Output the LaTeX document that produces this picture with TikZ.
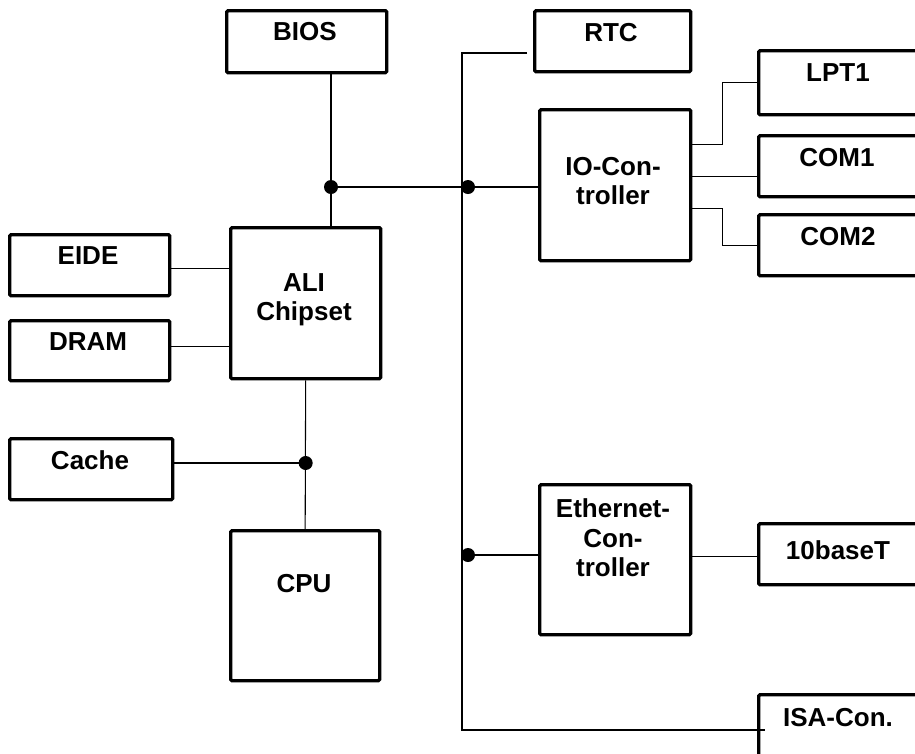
\documentclass[tikz,border=0pt]{standalone}
\usepackage{fontspec}
\setmainfont{Liberation Sans}
\usetikzlibrary{calc}

\begin{document}
\begin{tikzpicture}[x=0.75pt, y=-0.75pt,
  box/.style 2 args={draw, line width=2.5pt, rounded corners=1pt, anchor=north west,
    inner sep=0pt, minimum width=#1*0.75pt, minimum height=#2*0.75pt},
  lbl/.style={font=\fontsize{19.5}{22}\selectfont\bfseries, align=center, inner sep=0pt},
  wire/.style={line width=0.8pt},
  dot/.style={circle, fill, inner sep=0pt, minimum size=10.5pt}]

  \useasboundingbox (0,0) rectangle (915,754);

  % boxes
  \node[box={160}{62}] (bios) at (225,9) {};
  \node[box={156}{61}] (rtc) at (533,9) {};
  \node[box={170}{64}] (lpt) at (757,49) {};
  \node[box={151}{151}] (io) at (538,108) {};
  \node[box={170}{61}] (com1) at (757,134) {};
  \node[box={170}{61}] (com2) at (757,213) {};
  \node[box={160}{61}] (eide) at (8,233) {};
  \node[box={160}{60}] (dram) at (8,319) {};
  \node[box={150}{151}] (ali) at (229,226) {};
  \node[box={163}{61}] (cache) at (8,437) {};
  \node[box={149}{150}] (cpu) at (229,529) {};
  \node[box={151}{150}] (eth) at (538,483) {};
  \node[box={170}{61}] (tenbt) at (757,522) {};
  \node[box={170}{70}] (isa) at (757,693) {};

  % labels
  \node[lbl] (bios-t) at (305,32) {BIOS};
  \node[lbl] (rtc-t) at (611,33) {RTC};
  \node[lbl] (lpt-t) at (838,73) {LPT1};
  \node[lbl] (io-t) at (613,181) {IO-Con-\\troller};
  \node[lbl] (com1-t) at (837,158) {COM1};
  \node[lbl] (com2-t) at (838,237) {COM2};
  \node[lbl] (eide-t) at (88,256) {EIDE};
  \node[lbl] (dram-t) at (88,342) {DRAM};
  \node[lbl] (ali-t) at (304,300) {ALI\\Chipset};
  \node[lbl] (cache-t) at (90,460) {Cache};
  \node[lbl] (cpu-t) at (304,584) {CPU};
  \node[lbl] (eth-t) at (613,538) {Ethernet-\\Con-\\troller};
  \node[lbl] (tenbt-t) at (838,550) {10baseT};
  \node[lbl] (isa-t) at (838,718) {ISA-Con.};

  % junctions
  \coordinate (j1) at (331,187);
  \coordinate (jio) at (468,187);
  \coordinate (jeth) at (468,555);
  \coordinate (jc) at (ali.south |- 0,463);
  \coordinate (rtcin) at (527,53);
  \coordinate (busend) at (462,730);
  \coordinate (isain) at (765,730);

  % wires
  \draw[wire] (bios.south -| j1) -- (j1) -- (ali.north -| j1);
  \draw[wire] (j1) -- (j1 -| io.west);
  \draw[wire] (rtcin) -| (busend) -- (isain);
  \draw[wire] (jeth) -- (jeth -| eth.west);
  \draw[wire] ($(io.east)+(0,-41)$) -- ++(30,0) |- (lpt.west);
  \draw[wire] ($(io.east)+(0,-9)$) -- ($(io.east -| com1.west)+(0,-9)$);
  \draw[wire] ($(io.east)+(0,23)$) -- ++(30,0) |- (com2.west);
  \draw[wire] ($(eth.east)+(0,-3)$) -- ($(eth.east -| tenbt.west)+(0,-3)$);
  \draw[wire] ($(eide.east)+(0,3)$) -- ($(eide.east -| ali.west)+(3,3)$);
  \draw[wire] ($(dram.east)+(0,-4)$) -- ($(dram.east -| ali.west)+(3,-4)$);
  \draw[wire] (ali.south) -- (cpu.north);
  \draw[wire] (cache.east |- jc) -- (jc);

  % dots
  \node[dot] (d1) at (j1) {};
  \node[dot] (d2) at (jio) {};
  \node[dot] (d3) at (jeth) {};
  \node[dot] (d4) at (jc) {};
\end{tikzpicture}
\end{document}
